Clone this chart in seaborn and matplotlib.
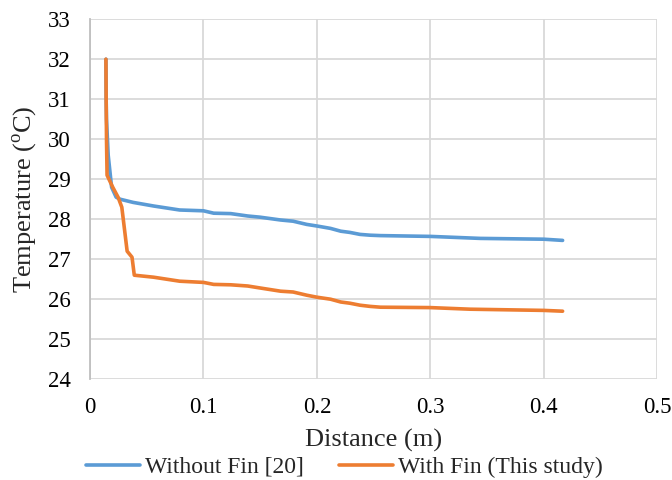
import numpy as np
import pandas as pd
import matplotlib
matplotlib.use("Agg")
import matplotlib.pyplot as plt
import seaborn as sns

# Temperature along the channel, without and with fins
dist_no_fin = [0.014, 0.0142, 0.0145, 0.016, 0.019, 0.023, 0.0265, 0.038, 0.056, 0.079,
               0.100, 0.109, 0.124, 0.139, 0.150, 0.168, 0.179, 0.191, 0.200, 0.212,
               0.221, 0.229, 0.238, 0.247, 0.256, 0.300, 0.344, 0.400, 0.4166]
temp_no_fin = [32.0, 31.0, 30.5, 29.6, 28.8, 28.55, 28.5, 28.42, 28.33, 28.23,
               28.21, 28.15, 28.14, 28.08, 28.05, 27.98, 27.95, 27.87, 27.83, 27.77,
               27.70, 27.67, 27.62, 27.60, 27.59, 27.57, 27.52, 27.50, 27.47]

dist_fin = [0.014, 0.0142, 0.0145, 0.015, 0.020, 0.0247, 0.028, 0.0327, 0.037, 0.039,
            0.056, 0.079, 0.100, 0.109, 0.124, 0.139, 0.150, 0.168, 0.179, 0.191,
            0.200, 0.212, 0.221, 0.229, 0.238, 0.247, 0.256, 0.300, 0.335, 0.400, 0.4166]
temp_fin = [32.0, 31.0, 30.0, 29.1, 28.8, 28.55, 28.3, 27.2, 27.05, 26.6,
            26.55, 26.45, 26.42, 26.37, 26.36, 26.33, 26.28, 26.20, 26.18, 26.10,
            26.05, 26.00, 25.93, 25.90, 25.85, 25.82, 25.80, 25.79, 25.75, 25.72, 25.70]

series_names = ["Without Fin [20]", "With Fin (This study)"]
x_ticks = [0, 0.1, 0.2, 0.3, 0.4, 0.5]
x_tick_labels = ["0", "0.1", "0.2", "0.3", "0.4", "0.5"]
y_ticks = list(range(24, 34))

df = pd.concat([
    pd.DataFrame({"Distance": dist_no_fin, "Temperature": temp_no_fin,
                  "Series": series_names[0]}),
    pd.DataFrame({"Distance": dist_fin, "Temperature": temp_fin,
                  "Series": series_names[1]}),
])

sns.set_theme(style="white")
plt.rcParams["font.family"] = ["Liberation Serif", "DejaVu Serif"]
plt.rcParams["mathtext.fontset"] = "custom"
plt.rcParams["mathtext.rm"] = "Liberation Serif"

fig = plt.figure(figsize=(6.72, 4.8), dpi=100)
ax = fig.add_axes([0.134, 0.21, 0.844, 0.75])

palette = {series_names[0]: "#5b9bd5", series_names[1]: "#ed7d31"}
sns.lineplot(data=df, x="Distance", y="Temperature", hue="Series", palette=palette,
             sort=False, estimator=None, units="Series", linewidth=2.6, ax=ax,
             legend=True)

ax.set_xlim(0, 0.5)
ax.set_ylim(24, 33)
ax.set_xticks(x_ticks)
ax.set_xticklabels(x_tick_labels)
ax.set_yticks(y_ticks)
ax.grid(True, color="#d9d9d9", linewidth=1.3)
ax.set_axisbelow(True)
for side in ["top", "right", "bottom"]:
    ax.spines[side].set_visible(False)
ax.spines["left"].set_color("#bfbfbf")
ax.spines["left"].set_linewidth(1.3)
ax.tick_params(axis="both", length=0, labelsize=16.5, colors="black")
ax.tick_params(axis="y", pad=14)
ax.tick_params(axis="x", pad=13)

ax.set_xlabel("Distance (m)", fontsize=19, labelpad=8)
ax.set_ylabel(r"Temperature ($^{\mathrm{o}}$C)", fontsize=19, labelpad=6)

handles, labels = ax.get_legend_handles_labels()
fig.legend(handles, labels, loc="center", bbox_to_anchor=(0.512, 0.027),
           ncol=2, frameon=False, fontsize=17, handlelength=2.3, handletextpad=0.2,
           columnspacing=1.5, borderaxespad=0)
ax.get_legend().remove() if ax.get_legend() else None

fig.savefig("out.png", dpi=100)
